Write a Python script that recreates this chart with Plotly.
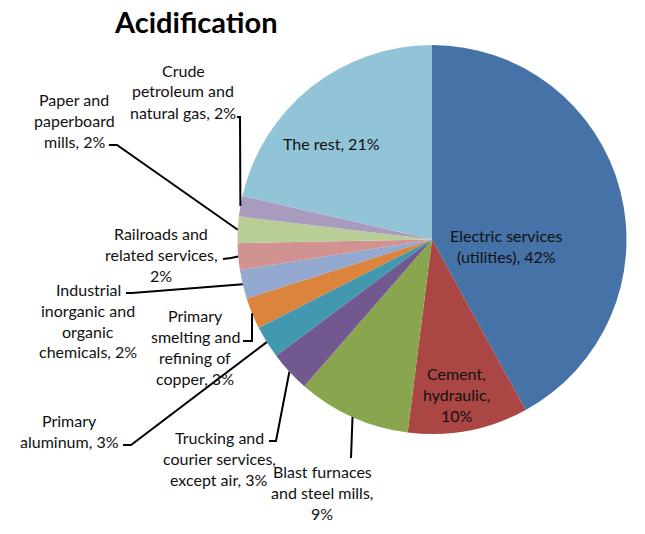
import math
import plotly.graph_objects as go

# ---------------- data ----------------
categories = [
    "Electric services (utilities)",
    "Cement, hydraulic",
    "Blast furnaces and steel mills",
    "Trucking and courier services, except air",
    "Primary aluminum",
    "Primary smelting and refining of copper",
    "Industrial inorganic and organic chemicals",
    "Railroads and related services",
    "Paper and paperboard mills",
    "Crude petroleum and natural gas",
    "The rest",
]
values = [42.0, 10.0, 9.4, 3.4, 2.7, 2.6, 2.4, 2.2, 2.2, 1.7, 21.4]
label_lines = [
    ["Electric services", "(utilities), {p}"],
    ["Cement,", "hydraulic,", "{p}"],
    ["Blast furnaces", "and steel mills,", "{p}"],
    ["Trucking and", "courier services,", "except air, {p}"],
    ["Primary", "aluminum, {p}"],
    ["Primary", "smelting and", "refining of", "copper, {p}"],
    ["Industrial", "inorganic and", "organic", "chemicals, {p}"],
    ["Railroads and", "related services,", "{p}"],
    ["Paper and", "paperboard", "mills, {p}"],
    ["Crude", "petroleum and", "natural gas, {p}"],
    ["The rest, {p}"],
]
title_text = "Acidification"

# ---------------- styles / layout ----------------
colors = ["#4572A7", "#AA4643", "#89A54E", "#71588F", "#4198AF", "#DB843D",
          "#93A9CF", "#D19392", "#B9CD96", "#A99BBD", "#92C4D7"]
W, H = 645, 534
PIE_LEFT, PIE_RIGHT, PIE_TOP, PIE_BOTTOM = 237.5, 626.5, 45.0, 434.0
FONT = "Lato"
FS = 16
LINE_GAP = 21

# label placement: (center x px, first line y px), leader path points (px) from label side
label_pos = [
    (506, 235), (457, 373), (322, 471), (219, 437), (69, 420), (195, 315),
    (88, 289), (161, 233), (74, 99), (183, 70), (331, 143),
]
leader_start = [
    None, None, [(351, 458)], [(269, 441), (276, 441)], [(123, 445), (131, 445)],
    [(243, 341), (252, 341)], [(126, 293), (132, 293)], [(223, 259), (231, 258)],
    [(109, 145), (117, 145)], [(237, 117), (240, 117)], None,
]


def X(px):
    return px / W


def Y(py):
    return 1 - py / H


total = sum(values)
pct_text = [f"{int(v / total * 100 + 0.5)}%" for v in values]

fig = go.Figure(go.Pie(
    labels=categories, values=values, sort=False, direction="clockwise",
    rotation=0, textinfo="none", hoverinfo="label+percent",
    marker=dict(colors=colors, line=dict(width=0)),
    domain=dict(x=[X(PIE_LEFT), X(PIE_RIGHT)], y=[Y(PIE_BOTTOM), Y(PIE_TOP)]),
    showlegend=False,
))

cx = (PIE_LEFT + PIE_RIGHT) / 2
cy = (PIE_TOP + PIE_BOTTOM) / 2
r = (PIE_RIGHT - PIE_LEFT) / 2

annotations = []
shapes = []
cum = 0.0
for i, v in enumerate(values):
    mid = (cum + v / 2) / total
    cum += v
    ang = 2 * math.pi * mid
    ex, ey = cx + r * math.sin(ang), cy - r * math.cos(ang)
    lx, ly = label_pos[i]
    for k, line in enumerate(label_lines[i]):
        annotations.append(dict(
            x=X(lx), y=Y(ly + k * LINE_GAP), xref="paper", yref="paper",
            text=line.format(p=pct_text[i]), showarrow=False,
            xanchor="center", yanchor="middle",
            font=dict(family=FONT, size=FS, color="#111111"),
        ))
    if leader_start[i]:
        pts = leader_start[i] + [(ex, ey)]
        path = "M " + " L ".join(f"{X(px):.5f},{Y(py):.5f}" for px, py in pts)
        shapes.append(dict(type="path", path=path, xref="paper", yref="paper",
                           line=dict(color="#000000", width=2)))

annotations.append(dict(
    x=X(196), y=Y(22), xref="paper", yref="paper", text=f"<b>{title_text}</b>",
    showarrow=False, xanchor="center", yanchor="middle",
    font=dict(family=FONT, size=29, color="#000000"),
))

fig.update_layout(
    width=W, height=H, margin=dict(l=0, r=0, t=0, b=0),
    paper_bgcolor="white", plot_bgcolor="white",
    annotations=annotations, shapes=shapes,
)
fig.write_html("out.html", config={"displayModeBar": False},
               post_script="document.body.style.margin='0';")
